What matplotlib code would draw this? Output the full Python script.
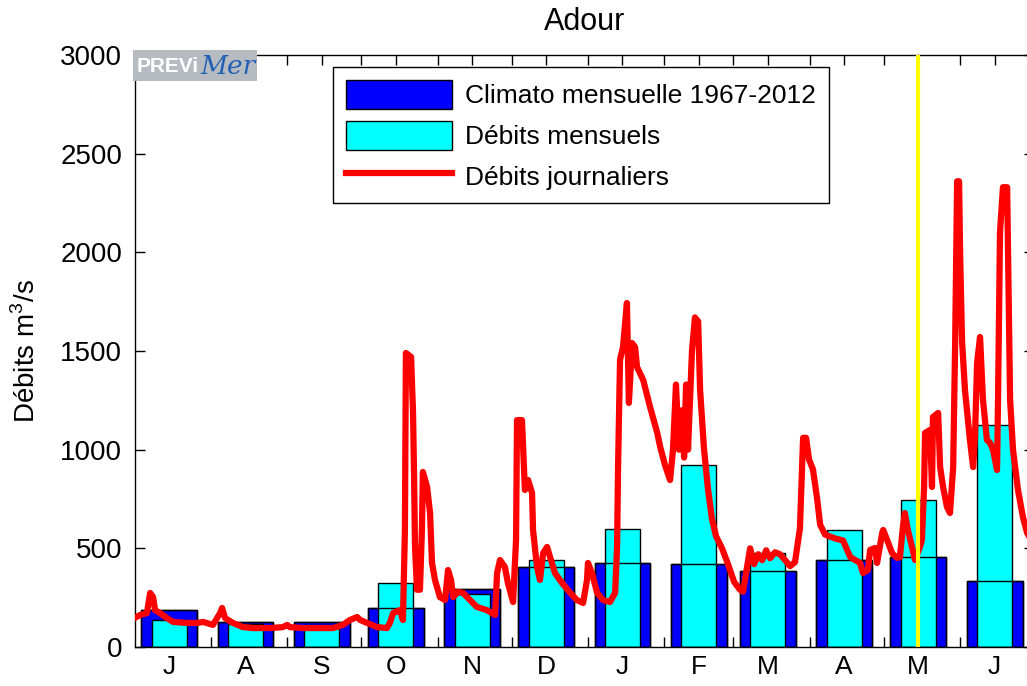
import numpy as np
import matplotlib
matplotlib.use("Agg")
import matplotlib.pyplot as plt
from matplotlib.patches import Patch, Rectangle
from matplotlib.lines import Line2D

plt.rcParams['font.family'] = ['Liberation Sans', 'DejaVu Sans']
plt.rcParams['mathtext.fontset'] = 'custom'
plt.rcParams['mathtext.rm'] = 'Liberation Sans'

#*** Data: hydrological year July -> June, x axis in days from 1 July
month_labels = ['J', 'A', 'S', 'O', 'N', 'D', 'J', 'F', 'M', 'A', 'M', 'J']
month_days = [31, 31, 30, 31, 30, 31, 31, 28, 31, 30, 31, 30]

# monthly climatology 1967-2012 and monthly flows (m3/s)
climato = [185, 128, 128, 200, 295, 405, 425, 420, 385, 440, 455, 335]
mensuels = [135, 118, 112, 325, 268, 440, 600, 920, 475, 592, 745, 1125]

# daily flows (day from 1 July, m3/s)
day_j = [0, 2.2, 5.0, 6.3, 7.5, 8.3, 10.3, 13.1, 15.6, 21.3, 25.3, 27.8,
         31.8, 34.7, 35.5, 36.7, 39.9, 43.9, 48.1, 55.0, 60.2, 61.9, 63.0,
         68.3, 75.2, 80.5, 84.6, 87.4, 90.3, 91.5, 94.4, 98.4, 102.4, 103.6,
         104.9, 107.7, 108.9, 109.7, 110.1, 112.2, 113.0, 113.4, 113.8, 114.6,
         115.0, 115.8, 116.6, 117.0, 118.7, 119.9, 120.7, 121.9, 123.9, 126.0,
         127.2, 128.4, 129.3, 131.3, 133.3, 136.1, 138.9, 143.0, 146.3, 147.1,
         148.3, 150.3, 151.5, 153.6, 154.8, 155.2, 157.2, 158.4, 159.7, 161.3,
         161.7, 163.3, 164.5, 165.8, 167.4, 168.6, 170.6, 173.5, 176.8, 179.5,
         182.0, 183.6, 184.0, 185.6, 187.7, 190.1, 192.9, 195.0, 195.8, 196.2,
         197.0, 198.2, 199.8, 200.6, 201.9, 203.1, 203.9, 206.4, 209.2, 212.1,
         213.3, 215.3, 217.3, 218.5, 219.7, 220.9, 222.2, 223.0, 223.8, 224.6,
         226.2, 227.4, 228.7, 229.5, 231.1, 232.7, 234.3, 236.0, 238.4, 240.8,
         243.3, 245.7, 246.9, 248.5, 249.8, 251.4, 253.1, 254.7, 256.3, 257.9,
         259.9, 261.9, 264.0, 266.0, 268.0, 270.0, 271.3, 272.5, 273.7, 275.3,
         277.0, 278.2, 280.2, 282.2, 284.3, 287.5, 290.4, 294.4, 295.6, 297.6,
         298.5, 300.5, 301.3, 303.4, 303.8, 305.4, 307.4, 309.4, 310.6, 311.8,
         312.6, 313.8, 315.5, 316.7, 318.7, 319.5, 320.4, 320.8, 322.8, 323.6,
         324.0, 326.1, 326.9, 328.1, 329.7, 330.9, 332.2, 333.0, 333.8, 334.6,
         335.0, 335.8, 337.0, 339.0, 340.3, 341.1, 341.9, 343.1, 344.3, 345.9,
         347.2, 348.4, 350.0, 350.4, 351.2, 352.4, 354.1, 354.5, 355.3, 356.5,
         358.5, 360.5, 362.2, 365.0]
debit_j = [147, 162, 172, 274, 253, 187, 172, 147, 127, 122, 122, 127,
           112, 172, 198, 147, 122, 101, 96, 96, 101, 112, 101,
           96, 96, 96, 112, 137, 152, 137, 122, 101, 96, 122,
           172, 187, 137, 593, 1490, 1470, 1186, 880, 507, 290,
           476, 290, 593, 887, 811, 679, 426, 340, 253, 238,
           390, 340, 253, 279, 274, 238, 203, 187, 162, 375,
           441, 405, 324, 228, 542, 1150, 1150, 796, 846, 780,
           593, 405, 340, 476, 507, 456, 375, 324, 274, 238,
           223, 340, 426, 375, 274, 238, 228, 274, 507, 912,
           1455, 1520, 1743, 1237, 1540, 1520, 1419, 1353, 1216, 1085,
           1014, 920, 846, 1000, 1330, 1000, 1200, 960, 1330, 1000,
           1500, 1670, 1650, 1300, 1000, 800, 650, 560, 500, 420,
           330, 290, 280, 400, 500, 420, 470, 440, 490, 450,
           480, 470, 440, 410, 430, 600, 1060, 1060, 950, 900,
           750, 620, 570, 560, 550, 540, 456, 426, 375, 390,
           492, 502, 426, 578, 593, 542, 476, 451, 456, 608,
           679, 593, 507, 441, 507, 542, 811, 1085, 1100, 811,
           1166, 1186, 912, 811, 709, 679, 912, 1540, 2360, 2360,
           2000, 1550, 1300, 1049, 912, 1085, 1439, 1571, 1252, 1049,
           1034, 998, 897, 1252, 2100, 2330, 2330, 1961, 1252, 998,
           796, 659, 578, 520]

jour_courant = 318  # 15 May

#*** Month geometry
starts = np.concatenate([[0], np.cumsum(month_days)])
centres = starts[:-1] + 14

#*** Figure
fig = plt.figure(figsize=(10.27, 6.86), dpi=100)
ax = fig.add_axes([134.6 / 1027, 39 / 686, (1034 - 134.6) / 1027, 592 / 686])

ax.bar(centres, climato, width=22.7, color='#0000ff', edgecolor='black',
       linewidth=1.0, zorder=1)
ax.bar(centres, mensuels, width=14.2, color='#00ffff', edgecolor='black',
       linewidth=1.0, zorder=1.1)
ax.bar(centres, climato, width=22.7, fill=False, edgecolor='black',
       linewidth=1.0, zorder=1.2)
ax.plot(day_j, debit_j, color='#ff0000', linewidth=4.5, zorder=3)
ax.axvline(jour_courant, color='#ffff00', linewidth=3, zorder=4)

ax.set_xlim(0, 365)
ax.set_ylim(0, 3000)
ax.set_xticks(centres)
ax.set_xticklabels(month_labels)
ax.set_xticks(starts[1:-1], minor=True)
ax.set_yticks(np.arange(0, 3001, 500))
ax.set_axisbelow(True)
ax.tick_params(which='both', direction='in', top=True, right=True,
               length=7, width=1, labelsize=20, pad=9)
ax.tick_params(axis='x', pad=6, labelsize=19)
for sp in ax.spines.values():
    sp.set_linewidth(1.0)

ax.set_title('Adour', fontsize=22, pad=18)
ax.set_ylabel(u'Débits m$^3$/s', fontsize=20, labelpad=14)

handles = [Patch(facecolor='#0000ff', edgecolor='black'),
           Patch(facecolor='#00ffff', edgecolor='black'),
           Line2D([0], [0], color='#ff0000', linewidth=4.5)]
labels = ['Climato mensuelle 1967-2012', u'Débits mensuels', u'Débits journaliers']
leg = ax.legend(handles, labels, loc='upper left',
                bbox_to_anchor=(0.2208, 0.9797), fontsize=19,
                handlelength=4.0, handleheight=1.3, handletextpad=0.5,
                labelspacing=0.45, borderpad=0.5, borderaxespad=0,
                fancybox=False, framealpha=1, edgecolor='black')
leg.get_frame().set_linewidth(1.0)

# PREViMer logo
fig.patches.append(Rectangle((133 / 1027, 1 - 81 / 686), 124 / 1027, 31 / 686,
                             transform=fig.transFigure, facecolor='#b6bbc1',
                             edgecolor='none', zorder=5))
fig.text(137 / 1027, 1 - 66 / 686, 'PREVi', color='white', fontsize=15,
         fontweight='bold', va='center', ha='left', zorder=6)
fig.text(200 / 1027, 1 - 66 / 686, 'Mer', color='#1f5fb4', fontsize=19,
         family='DejaVu Serif', style='italic', va='center', ha='left', zorder=6)

fig.savefig('out.png', dpi=100)
